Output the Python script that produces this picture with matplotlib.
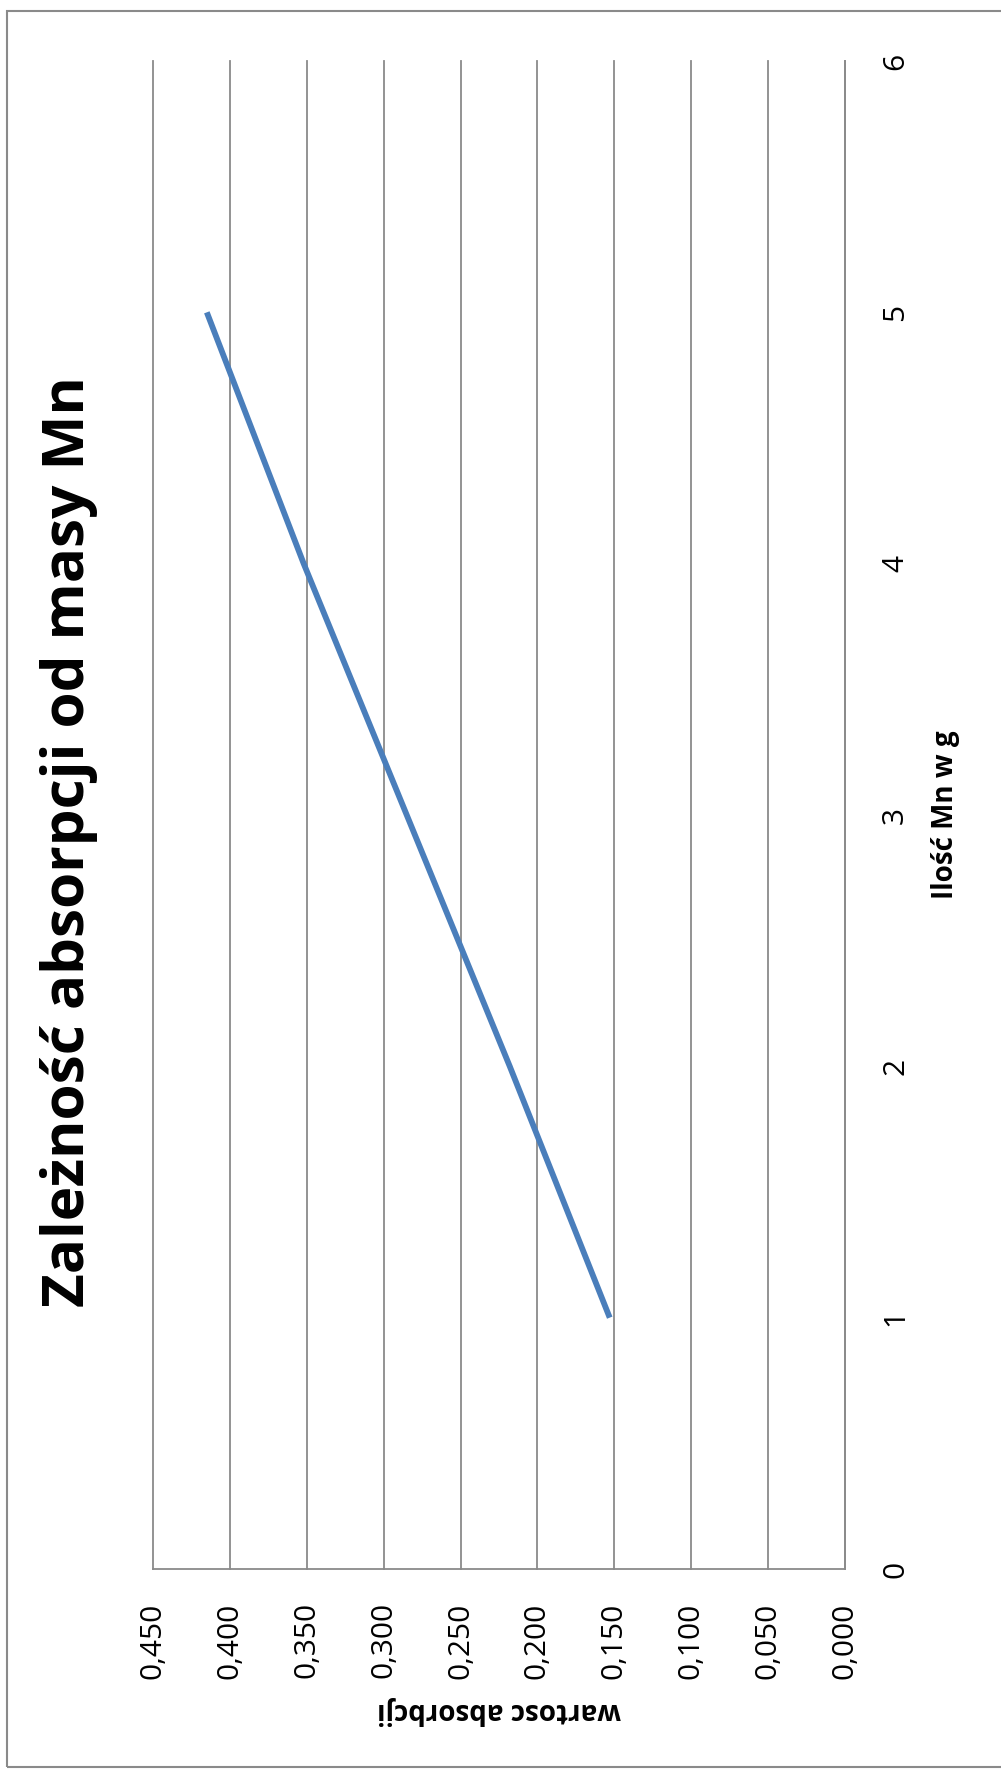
import matplotlib.pyplot as plt
import matplotlib.patches as patches

plt.rcParams['font.family'] = ['Open Sans', 'DejaVu Sans']

# Absorbance vs. mass of Mn
mass_g = [1, 2, 3, 4, 5]
absorbance = [0.153, 0.218, 0.285, 0.352, 0.415]

abs_ticks = [0.000, 0.050, 0.100, 0.150, 0.200, 0.250, 0.300, 0.350, 0.400, 0.450]
abs_labels = ['0,000', '0,050', '0,100', '0,150', '0,200', '0,250', '0,300', '0,350', '0,400', '0,450']
mass_ticks = [0, 1, 2, 3, 4, 5, 6]
mass_labels = ['0', '1', '2', '3', '4', '5', '6']

W, H = 1001, 1771
fig = plt.figure(figsize=(W / 100, H / 100), dpi=100)

# chart is laid out sideways: absorbance runs right-to-left, mass runs upward
ax = fig.add_axes([153 / W, 1 - 1569 / H, (845 - 153) / W, (1569 - 61) / H])
ax.plot(absorbance, mass_g, color='#4a7ebb', lw=4.2, solid_capstyle='butt')

ax.set_xlim(0.45, 0.0)
ax.set_ylim(0, 6)

grid_color = '#8a8a8a'
ax.set_xticks(abs_ticks)
ax.set_xticklabels(abs_labels, rotation=90, fontsize=21.5)
ax.set_yticks(mass_ticks)
ax.set_yticklabels(mass_labels, rotation=90, fontsize=21.5, va='center')
ax.yaxis.tick_right()
ax.tick_params(axis='x', length=0, pad=24)
ax.tick_params(axis='y', length=0, pad=26)

ax.grid(axis='x', color=grid_color, lw=1.3)
for gl in ax.get_xgridlines():
    gl.set_clip_on(False)
ax.set_axisbelow(True)

for side in ['left', 'top']:
    ax.spines[side].set_visible(False)
for side in ['right', 'bottom']:
    ax.spines[side].set_color(grid_color)
    ax.spines[side].set_linewidth(1.3)

# titles and axis names
fig.text(69 / W, 1 - 842 / H, 'Zależność absorpcji od masy Mn', rotation=90,
         ha='center', va='center', fontsize=42, fontweight='bold')
fig.text(945 / W, 1 - 815 / H, 'Ilość Mn w g', rotation=90,
         ha='center', va='center', fontsize=20, fontweight='bold')
fig.text(499 / W, 1 - 1710 / H, 'wartosc absorbcji', rotation=180,
         ha='center', va='center', fontsize=20, fontweight='bold')

# outer chart frame
frame = patches.Rectangle((7 / W, 1 - 1767 / H), 1.0, (1767 - 11) / H,
                          transform=fig.transFigure, fill=False,
                          edgecolor='#8a8a8a', lw=1.5, clip_on=False)
fig.add_artist(frame)

fig.savefig('out.png', dpi=100)
